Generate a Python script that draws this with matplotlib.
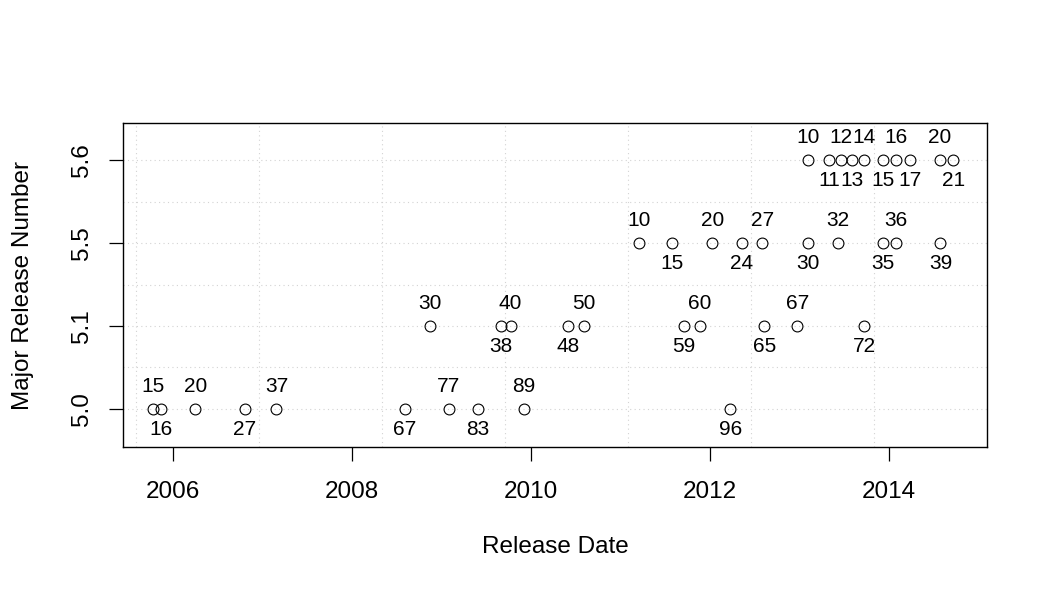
import numpy as np
import pandas as pd
import matplotlib
matplotlib.use("Agg")
import matplotlib.pyplot as plt
import matplotlib.dates as mdates

plt.rcParams['font.family'] = ['Liberation Sans', 'DejaVu Sans']

# Major release levels (y axis categories)
levels = ["5.0", "5.1", "5.5", "5.6"]

# release dates and minor numbers per major release
v50_dates = ["2005-10-13", "2005-11-13", "2006-04-03", "2006-10-22", "2007-02-28",
             "2008-08-05", "2009-01-30", "2009-05-31", "2009-12-04", "2012-03-24"]
v50_minor = [15, 16, 20, 27, 37, 67, 77, 83, 89, 96]

v51_dates = ["2008-11-15", "2009-09-01", "2009-10-10", "2010-06-01", "2010-08-05",
             "2011-09-17", "2011-11-21", "2012-08-10", "2012-12-23", "2013-09-21"]
v51_minor = [30, 38, 40, 48, 50, 59, 60, 65, 67, 72]

v55_dates = ["2011-03-17", "2011-07-31", "2012-01-12", "2012-05-10", "2012-08-03",
             "2013-02-06", "2013-06-06", "2013-12-06", "2014-01-31", "2014-07-30"]
v55_minor = [10, 15, 20, 24, 27, 30, 32, 35, 36, 39]

v56_dates = ["2013-02-06", "2013-05-03", "2013-06-19", "2013-08-04", "2013-09-21",
             "2013-12-06", "2014-01-30", "2014-03-26", "2014-07-28", "2014-09-21"]
v56_minor = [10, 11, 12, 13, 14, 15, 16, 17, 20, 21]

series = [(v50_dates, v50_minor), (v51_dates, v51_minor),
          (v55_dates, v55_minor), (v56_dates, v56_minor)]

AXFS = 17.5
LBFS = 15

fig = plt.figure(figsize=(10.5, 6), dpi=100)
ax = fig.add_axes([123 / 1050, 153 / 600, 864 / 1050, 324 / 600])

# dotted grid
for y in np.arange(1, 4.01, 0.5):
    ax.axhline(y, color="lightgray", linestyle=(0, (1, 3)), lw=0.8, zorder=0)
for d in pd.date_range("2005-08-03", periods=7, freq="502D"):
    ax.axvline(mdates.date2num(d), color="lightgray", linestyle=(0, (1, 3)), lw=0.8, zorder=0)

for i, (dates, minor) in enumerate(series):
    x = mdates.date2num(pd.to_datetime(dates))
    y = np.full(len(x), i + 1)
    ax.plot(x, y, linestyle="none", marker="o", ms=7.8, mfc="none", mec="black", mew=0.8)
    for k, (xx, m) in enumerate(zip(x, minor)):
        dy = 16.2 if k % 2 == 0 else -14.8
        ax.annotate(str(m), (xx, i + 1), xytext=(0, dy), textcoords="offset points",
                    ha="center", va="center", fontsize=LBFS)

ax.set_xlim(mdates.date2num(pd.Timestamp("2005-06-12")), mdates.date2num(pd.Timestamp("2015-02-05")))
ax.set_ylim(0.54, 4.45)

years = [2006, 2008, 2010, 2012, 2014]
ax.set_xticks([mdates.date2num(pd.Timestamp(f"{yr}-01-01")) for yr in years])
ax.set_xticklabels([str(yr) for yr in years], fontsize=AXFS)
ax.set_yticks([1, 2, 3, 4])
ax.set_yticklabels(levels, fontsize=AXFS, rotation=90, va="center")

ax.tick_params(axis="both", length=10.4, width=0.9, direction="out")
ax.tick_params(axis="x", pad=13.8)
ax.tick_params(axis="y", pad=11)
for s in ax.spines.values():
    s.set_linewidth(1.0)

ax.set_xlabel("Release Date", fontsize=AXFS, labelpad=24)
ax.set_ylabel("Major Release Number", fontsize=AXFS, labelpad=27)

fig.savefig("out.png", dpi=100)
